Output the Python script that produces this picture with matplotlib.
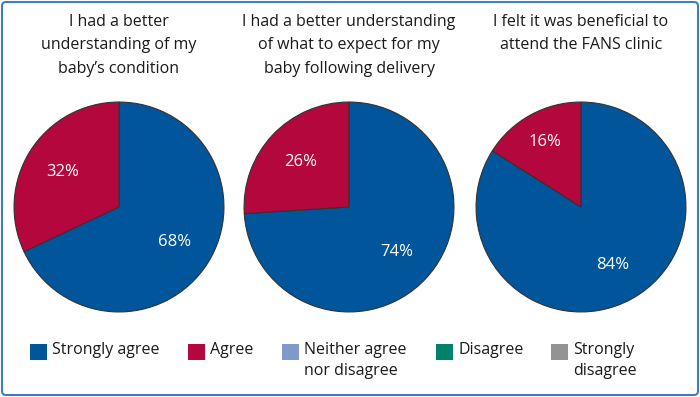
import matplotlib
matplotlib.use('Agg')
import matplotlib.pyplot as plt
from matplotlib.patches import Rectangle, FancyBboxPatch

plt.rcParams['font.family'] = ['Open Sans', 'DejaVu Sans']

# Data
titles = ['I had a better\nunderstanding of my\nbaby\u2019s condition',
          'I had a better understanding\nof what to expect for my\nbaby following delivery',
          'I felt it was beneficial to\nattend the FANS clinic']
strongly_agree = [68, 74, 84]
agree = [32, 26, 16]
categories = ['Strongly agree', 'Agree', 'Neither agree\nnor disagree', 'Disagree', 'Strongly\ndisagree']
colors = ['#00559b', '#b4073e', '#8199c9', '#00826a', '#939393']

W, H = 700, 397
fig = plt.figure(figsize=(W / 100, H / 100), dpi=100)

# pixel frame for border, titles and legend
frame = fig.add_axes([0, 0, 1, 1])
frame.set_xlim(0, W)
frame.set_ylim(H, 0)
frame.axis('off')
frame.add_patch(FancyBboxPatch((2, 2), W - 4, H - 4, boxstyle='round,pad=0,rounding_size=4',
                               fc='white', ec='#3f7fc0', lw=1.5))

centers = [119, 349, 581]
cy = 207
r = 106
for i, cx in enumerate(centers):
    ax = fig.add_axes([(cx - r) / W, (H - cy - r) / H, 2 * r / W, 2 * r / H])
    wedges, _, autotexts = ax.pie([strongly_agree[i], agree[i]], colors=colors[:2],
                                  startangle=90, counterclock=False,
                                  autopct='%d%%', pctdistance=0.63,
                                  wedgeprops=dict(edgecolor='#333333', linewidth=0.8),
                                  textprops=dict(color='white', fontsize=12))
    ax.set_xlim(-1.01, 1.01)
    ax.set_ylim(-1.01, 1.01)
    if agree[i] < 20:
        x, y = autotexts[1].get_position()
        autotexts[1].set_position((x * 1.13, y * 1.13))
    frame.text(cx, 14, titles[i], ha='center', va='top', fontsize=11.5,
               color='#1a1a1a', linespacing=1.62)

# legend
sq_x = [30, 188, 282, 436, 551]
for x, label, c in zip(sq_x, categories, colors):
    frame.add_patch(Rectangle((x, 344), 17, 16, fc=c, ec='none'))
    frame.text(x + 22, 342, label, ha='left', va='top', fontsize=11.5,
               color='#1a1a1a', linespacing=1.38)

fig.savefig('out.png', dpi=100)
